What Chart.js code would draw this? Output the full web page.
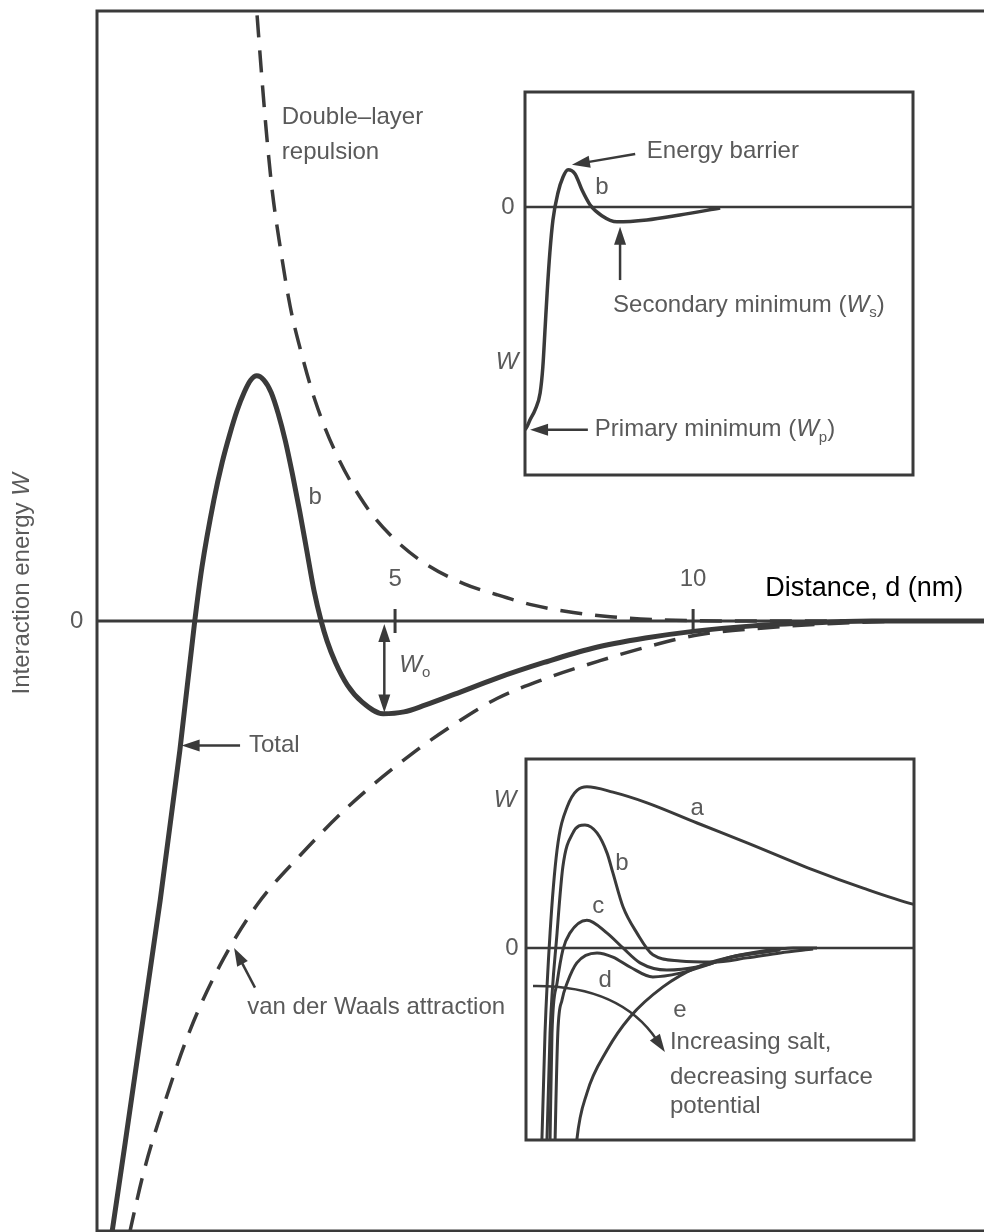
<!DOCTYPE html>
<html>
<head>
<meta charset="utf-8">
<script src="https://cdn.jsdelivr.net/npm/chart.js@4.4.1/dist/chart.umd.min.js"></script>
<style>
html,body{margin:0;padding:0;background:#fff;overflow:hidden}
#wrap{position:relative;width:984px;height:1232px;background:#fff}
#wrap canvas{position:absolute}
</style>
</head>
<body>
<div id="wrap">
<canvas id="main" width="984" height="1232" style="left:0;top:0"></canvas>
<canvas id="ins1" width="460" height="420" style="left:480px;top:70px"></canvas>
<canvas id="ins2" width="460" height="420" style="left:480px;top:740px"></canvas>
</div>
<script>
// ---------------- data: main chart ----------------
const totalD = [0.18,1.06,1.39,1.64,1.76,1.96,2.10,2.23,2.35,2.47,2.58,2.68,2.80,2.92,3.04,3.16,3.28,3.40,3.52,3.64,3.76,3.86,4.00,4.20,4.45,4.80,5.15,5.50,6.00,6.70,7.50,8.30,9.20,10.00,11.00,12.00,13.00,14.88];
const totalW = [-10.5,-4.58,-2.12,0,0.88,1.98,2.60,3.07,3.45,3.75,3.95,4.02,3.95,3.75,3.40,2.95,2.40,1.80,1.15,0.50,0,-0.33,-0.68,-1.05,-1.33,-1.52,-1.49,-1.38,-1.20,-0.94,-0.68,-0.45,-0.28,-0.17,-0.08,-0.03,0,0];
const repD = [2.64,2.68,2.75,2.84,2.94,3.07,3.24,3.41,3.66,3.99,4.48,4.92,5.49,6.16,6.71,7.32,7.99,8.61,9.45,10.45,13.5];
const repW = [10.5,10.0,9.10,8.03,7.05,6.15,5.16,4.46,3.61,2.79,1.93,1.41,0.95,0.61,0.43,0.26,0.14,0.07,0.02,0,0];
const vdwD = [0.42,0.55,0.79,1.12,1.56,2.06,2.68,3.41,4.24,5.32,6.09,6.71,7.48,8.44,9.28,10.12,11.24,12.35,13.47];
const vdwW = [-10.61,-10.02,-9.01,-7.94,-6.71,-5.65,-4.66,-3.84,-3.02,-2.15,-1.63,-1.27,-0.96,-0.65,-0.41,-0.22,-0.11,-0.04,0];
const mainTicks = [5, 10];
const mainTickLabels = ['5', '10'];

// ---------------- data: inset 1 (curve b) ----------------
const in1D = [0,0.05,0.13,0.26,0.39,0.46,0.52,0.57,0.64,0.72,0.85,0.98,1.11,1.29,1.47,1.68,1.98,2.37,3.14,3.99,5.03];
const in1W = [-5.82,-5.74,-5.56,-5.30,-4.86,-4.18,-3.13,-2.25,-1.20,-0.34,0.37,0.78,0.97,0.86,0.44,0.05,-0.23,-0.39,-0.34,-0.21,-0.03];

// ---------------- data: inset 2 (curves a-e) ----------------
const aD = [0.40,0.41,0.49,0.62,0.80,1.06,1.57,2.24,3.12,4.41,5.70,7.40,8.69,9.97,10.2];
const aW = [-5.6,-5.04,-2.23,0.39,2.57,3.70,4.23,4.09,3.81,3.28,2.76,2.05,1.57,1.15,1.10];
const bD = [0.53,0.54,0.62,0.80,0.95,1.21,1.52,1.83,2.09,2.24,2.50,2.86,3.27,3.97,4.82,5.70,6.55,7.40];
const bW = [-5.6,-5.04,-2.23,0.39,2.13,3.02,3.23,3.02,2.49,1.97,1.08,0.39,-0.18,-0.34,-0.37,-0.26,-0.13,-0.03];
const cD = [0.61,0.62,0.67,0.80,0.95,1.13,1.57,2.09,2.50,2.94,3.63,4.41,5.26,6.55];
const cW = [-5.6,-5.04,-2.23,-0.92,-0.05,0.39,0.73,0.39,0,-0.39,-0.58,-0.50,-0.26,-0.05];
const dD = [0.74,0.75,0.82,0.93,1.06,1.31,1.83,2.24,2.68,3.27,3.97,4.66,5.26,6.55];
const dW = [-5.6,-5.04,-2.23,-1.36,-0.92,-0.39,-0.13,-0.24,-0.50,-0.76,-0.66,-0.45,-0.24,-0.05];
const eD = [1.27,1.31,1.57,2.09,2.68,3.53,4.41,5.26,6.11,6.88,7.5];
const eW = [-5.6,-5.04,-3.81,-2.68,-1.81,-1.02,-0.50,-0.24,-0.08,0,0];

// ---------------- styles ----------------
const FONT = '"Liberation Sans", Arial, Helvetica, sans-serif';
const INK = '#3a3a3a';
const TXT = '#5a5a5a';
const FS = 24;

function pts(xs, ys){ return xs.map((x,i)=>({x:x, y:ys[i]})); }

function fontFor(p, size){
  const s = p.sub ? Math.round(size*0.62) : size;
  return (p.i ? 'italic ' : '') + s + 'px ' + FONT;
}
function rich(ctx, parts, x, y, size, color, align){
  ctx.save();
  ctx.fillStyle = color; ctx.textBaseline = 'middle'; ctx.textAlign = 'left';
  const ws = parts.map(p => { ctx.font = fontFor(p, size); return ctx.measureText(p.t).width; });
  const tot = ws.reduce((a,b)=>a+b,0);
  let cx = align === 'center' ? x - tot/2 : (align === 'right' ? x - tot : x);
  parts.forEach((p,k)=>{ ctx.font = fontFor(p, size); ctx.fillText(p.t, cx, y + (p.sub ? size*0.32 : 0)); cx += ws[k]; });
  ctx.restore();
}
function head(ctx, x2, y2, ang, L, W){
  ctx.beginPath();
  ctx.moveTo(x2, y2);
  ctx.lineTo(x2 - L*Math.cos(ang) - W*Math.sin(ang), y2 - L*Math.sin(ang) + W*Math.cos(ang));
  ctx.lineTo(x2 - L*Math.cos(ang) + W*Math.sin(ang), y2 - L*Math.sin(ang) - W*Math.cos(ang));
  ctx.closePath(); ctx.fill();
}
function arrow(ctx, x1, y1, x2, y2, lw){
  const ang = Math.atan2(y2-y1, x2-x1), L = 18, W = 6;
  ctx.save();
  ctx.strokeStyle = INK; ctx.fillStyle = INK; ctx.lineWidth = lw || 2.5;
  ctx.beginPath(); ctx.moveTo(x1, y1);
  ctx.lineTo(x2 - L*0.8*Math.cos(ang), y2 - L*0.8*Math.sin(ang)); ctx.stroke();
  head(ctx, x2, y2, ang, L, W);
  ctx.restore();
}
function dblArrow(ctx, x, y1, y2){
  const L = 18, W = 6;
  ctx.save();
  ctx.strokeStyle = INK; ctx.fillStyle = INK; ctx.lineWidth = 2.5;
  ctx.beginPath(); ctx.moveTo(x, y1 + L*0.8); ctx.lineTo(x, y2 - L*0.8); ctx.stroke();
  head(ctx, x, y1, -Math.PI/2, L, W);
  head(ctx, x, y2, Math.PI/2, L, W);
  ctx.restore();
}
function P(chart, x, y){ return [chart.scales.x.getPixelForValue(x), chart.scales.y.getPixelForValue(y)]; }

function lineDS(data, width, dash){
  return {
    data: data, showLine: true, borderColor: INK, borderWidth: width,
    borderDash: dash || [], pointRadius: 0, fill: false,
    cubicInterpolationMode: 'monotone', borderCapStyle: 'butt', borderJoinStyle: 'round'
  };
}
const baseOpts = (xmin, xmax, ymin, ymax, pad) => ({
  responsive: false, animation: false, devicePixelRatio: 1,
  layout: { padding: pad },
  plugins: { legend: { display: false }, tooltip: { enabled: false } },
  scales: {
    x: { type: 'linear', min: xmin, max: xmax, display: false },
    y: { type: 'linear', min: ymin, max: ymax, display: false }
  }
});

// ---------------- main chart ----------------
const mainDecor = {
  id: 'mainDecor',
  afterDatasetsDraw(chart){
    const ctx = chart.ctx, a = chart.chartArea;
    ctx.save();
    ctx.strokeStyle = INK; ctx.lineWidth = 3;
    ctx.beginPath();
    ctx.moveTo(a.right + 5, a.top); ctx.lineTo(a.left, a.top);
    ctx.lineTo(a.left, a.bottom); ctx.lineTo(a.right + 5, a.bottom);
    ctx.stroke();
    const y0 = chart.scales.y.getPixelForValue(0);
    ctx.beginPath(); ctx.moveTo(a.left, y0); ctx.lineTo(a.right + 5, y0); ctx.stroke();
    mainTicks.forEach((t, k) => {
      const xp = chart.scales.x.getPixelForValue(t);
      ctx.beginPath(); ctx.moveTo(xp, y0 - 12); ctx.lineTo(xp, y0 + 12); ctx.stroke();
      rich(ctx, [{t: mainTickLabels[k]}], xp, y0 - 42, FS, TXT, 'center');
    });
    ctx.restore();
    let p = P(chart, -0.34, 0); rich(ctx, [{t:'0'}], p[0], p[1], FS, TXT, 'center');
    p = P(chart, -1.26, 0.61);
    ctx.save(); ctx.translate(p[0], p[1]); ctx.rotate(-Math.PI/2);
    rich(ctx, [{t:'Interaction energy '},{t:'W', i:true}], 0, 0, FS, TXT, 'center');
    ctx.restore();
    p = P(chart, 11.21, 0.53); rich(ctx, [{t:'Distance, d (nm)'}], p[0], p[1], 27, '#000', 'left');
    p = P(chart, 3.10, 8.25); rich(ctx, [{t:'Double\u2013layer'}], p[0], p[1], FS, TXT, 'left');
    p = P(chart, 3.10, 7.68); rich(ctx, [{t:'repulsion'}], p[0], p[1], FS, TXT, 'left');
    p = P(chart, 3.66, 2.02); rich(ctx, [{t:'b'}], p[0], p[1], FS, TXT, 'center');
    p = P(chart, 5.07, -0.73); rich(ctx, [{t:'W', i:true},{t:'o', sub:true}], p[0], p[1], FS, TXT, 'left');
    let q = P(chart, 4.82, -0.05), r = P(chart, 4.82, -1.50);
    dblArrow(ctx, q[0], q[1], r[1]);
    p = P(chart, 2.55, -2.04); rich(ctx, [{t:'Total'}], p[0], p[1], FS, TXT, 'left');
    q = P(chart, 2.40, -2.04); r = P(chart, 1.42, -2.04); arrow(ctx, q[0], q[1], r[0], r[1]);
    p = P(chart, 2.52, -6.34); rich(ctx, [{t:'van der Waals attraction'}], p[0], p[1], FS, TXT, 'left');
    q = P(chart, 2.65, -6.01); r = P(chart, 2.30, -5.36); arrow(ctx, q[0], q[1], r[0], r[1]);
  }
};

new Chart(document.getElementById('main'), {
  type: 'scatter',
  data: { datasets: [
    lineDS(pts(repD, repW), 3.5, [22, 13]),
    lineDS(pts(vdwD, vdwW), 3.5, [22, 13]),
    lineDS(pts(totalD, totalW), 5)
  ]},
  options: baseOpts(0, 14.88, -10, 10, {left: 97, top: 11, right: 0, bottom: 1}),
  plugins: [mainDecor]
});

// ---------------- inset 1 ----------------
function boxAndZero(chart){
  const ctx = chart.ctx, a = chart.chartArea;
  ctx.save(); ctx.strokeStyle = INK; ctx.lineWidth = 3;
  ctx.strokeRect(a.left, a.top, a.right - a.left, a.bottom - a.top);
  const y0 = chart.scales.y.getPixelForValue(0);
  ctx.lineWidth = 2.5;
  ctx.beginPath(); ctx.moveTo(a.left, y0); ctx.lineTo(a.right, y0); ctx.stroke();
  ctx.restore();
}
const ins1Decor = {
  id: 'ins1Decor',
  afterDatasetsDraw(chart){
    const ctx = chart.ctx;
    boxAndZero(chart);
    let p = P(chart, -0.44, 0); rich(ctx, [{t:'0'}], p[0], p[1], FS, TXT, 'center');
    p = P(chart, -0.46, -4.07); rich(ctx, [{t:'W', i:true}], p[0], p[1], FS, TXT, 'center');
    p = P(chart, 3.14, 1.44); rich(ctx, [{t:'Energy barrier'}], p[0], p[1], FS, TXT, 'left');
    let q = P(chart, 2.84, 1.38), r = P(chart, 1.21, 1.10); arrow(ctx, q[0], q[1], r[0], r[1]);
    p = P(chart, 1.98, 0.52); rich(ctx, [{t:'b'}], p[0], p[1], FS, TXT, 'center');
    q = P(chart, 2.45, -1.91); r = P(chart, 2.45, -0.52); arrow(ctx, q[0], q[1], r[0], r[1]);
    p = P(chart, 2.27, -2.56);
    rich(ctx, [{t:'Secondary minimum ('},{t:'W', i:true},{t:'s', sub:true},{t:')'}], p[0], p[1], FS, TXT, 'left');
    p = P(chart, 1.80, -5.82);
    rich(ctx, [{t:'Primary minimum ('},{t:'W', i:true},{t:'p', sub:true},{t:')'}], p[0], p[1], FS, TXT, 'left');
    q = P(chart, 1.62, -5.82); r = P(chart, 0.13, -5.82); arrow(ctx, q[0], q[1], r[0], r[1]);
  }
};
new Chart(document.getElementById('ins1'), {
  type: 'scatter',
  data: { datasets: [ lineDS(pts(in1D, in1W), 3.5) ] },
  options: baseOpts(0, 10, -7, 3, {left: 45, top: 22, right: 27, bottom: 15}),
  plugins: [ins1Decor]
});

// ---------------- inset 2 ----------------
const ins2Decor = {
  id: 'ins2Decor',
  afterDatasetsDraw(chart){
    const ctx = chart.ctx;
    boxAndZero(chart);
    let p = P(chart, -0.54, 3.88); rich(ctx, [{t:'W', i:true}], p[0], p[1], FS, TXT, 'center');
    p = P(chart, -0.36, 0); rich(ctx, [{t:'0'}], p[0], p[1], FS, TXT, 'center');
    const labs = [['a',4.41,3.67],['b',2.47,2.23],['c',1.86,1.08],['d',2.04,-0.84],['e',3.97,-1.63]];
    labs.forEach(l => { const pp = P(chart, l[1], l[2]); rich(ctx, [{t:l[0]}], pp[0], pp[1], FS, TXT, 'center'); });
    const s = P(chart, 0.18, -1.0), c = P(chart, 2.42, -0.97), t = P(chart, 3.58, -2.73);
    const ang = Math.atan2(t[1]-c[1], t[0]-c[0]);
    ctx.save(); ctx.strokeStyle = INK; ctx.fillStyle = INK; ctx.lineWidth = 2.5;
    ctx.beginPath(); ctx.moveTo(s[0], s[1]);
    ctx.quadraticCurveTo(c[0], c[1], t[0] - 14*Math.cos(ang), t[1] - 14*Math.sin(ang)); ctx.stroke();
    head(ctx, t[0], t[1], ang, 18, 6);
    ctx.restore();
    p = P(chart, 3.71, -2.49); rich(ctx, [{t:'Increasing salt,'}], p[0], p[1], FS, TXT, 'left');
    p = P(chart, 3.71, -3.39); rich(ctx, [{t:'decreasing surface'}], p[0], p[1], FS, TXT, 'left');
    p = P(chart, 3.71, -4.17); rich(ctx, [{t:'potential'}], p[0], p[1], FS, TXT, 'left');
  }
};
new Chart(document.getElementById('ins2'), {
  type: 'scatter',
  data: { datasets: [
    lineDS(pts(aD, aW), 3), lineDS(pts(bD, bW), 3), lineDS(pts(cD, cW), 3),
    lineDS(pts(dD, dW), 3), lineDS(pts(eD, eW), 3)
  ]},
  options: baseOpts(0, 10, -5.04, 4.96, {left: 46, top: 19, right: 26, bottom: 20}),
  plugins: [ins2Decor]
});
</script>
</body>
</html>
